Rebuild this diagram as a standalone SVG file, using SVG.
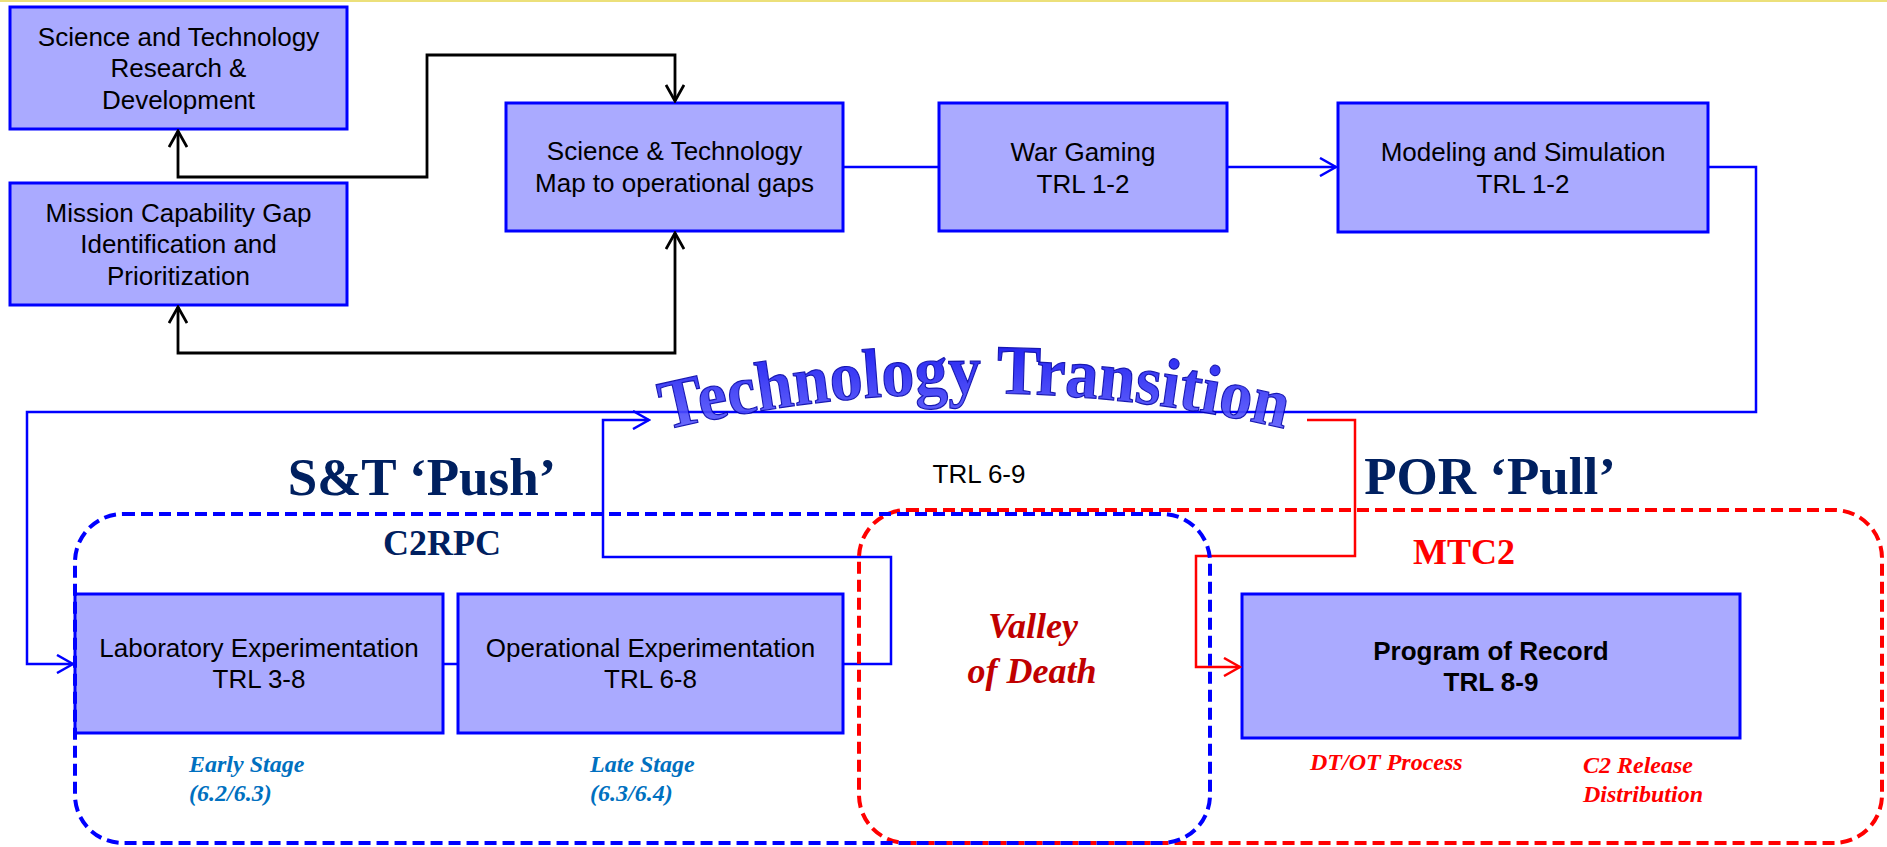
<svg xmlns="http://www.w3.org/2000/svg" width="1887" height="847" viewBox="0 0 1887 847">
<style>
.box{fill:#aaaaff;stroke:#0000ff;stroke-width:3}
.bt{font-family:"Liberation Sans",Arial,sans-serif;font-size:26px;fill:#000;text-anchor:middle}
.bold{font-weight:bold}
.ck{fill:none;stroke:#000;stroke-width:2.8}
.cb{fill:none;stroke:#0000ff;stroke-width:2.5}
.cr{fill:none;stroke:#ff0000;stroke-width:2.5}
.hd{font-family:"Liberation Serif","Times New Roman",serif;font-weight:bold;fill:#002060}
.it{font-family:"Liberation Serif","Times New Roman",serif;font-weight:bold;font-style:italic}
</style>
<defs>
<marker id="ak" viewBox="0 0 20 20" refX="18" refY="10" markerWidth="20" markerHeight="20" markerUnits="userSpaceOnUse" orient="auto-start-reverse"><path d="M2,1 L18,10 L2,19" fill="none" stroke="#000" stroke-width="2.8"/></marker>
<marker id="ab" viewBox="0 0 20 20" refX="18" refY="10" markerWidth="20" markerHeight="20" markerUnits="userSpaceOnUse" orient="auto"><path d="M2,1 L18,10 L2,19" fill="none" stroke="#0000ff" stroke-width="2.5"/></marker>
<marker id="ar" viewBox="0 0 20 20" refX="18" refY="10" markerWidth="20" markerHeight="20" markerUnits="userSpaceOnUse" orient="auto"><path d="M2,1 L18,10 L2,19" fill="none" stroke="#ff0000" stroke-width="2.5"/></marker>
<linearGradient id="wg" x1="0" y1="0" x2="0" y2="1"><stop offset="0" stop-color="#0000ee"/><stop offset="1" stop-color="#6a6aff"/></linearGradient>
<path id="arc" d="M665,430 A1346,1346 0 0 1 1290,430"/>
</defs>
<rect x="0" y="0" width="1887" height="2" fill="#ece07a"/>

<g id="n-rd"><rect class="box" x="10" y="7" width="337" height="122"/>
<text class="bt" x="178.5" y="46">Science and Technology</text><text class="bt" x="178.5" y="77">Research &amp;</text><text class="bt" x="178.5" y="109">Development</text></g>
<g id="n-gap"><rect class="box" x="10" y="183" width="337" height="122"/>
<text class="bt" x="178.5" y="222">Mission Capability Gap</text><text class="bt" x="178.5" y="253">Identification and</text><text class="bt" x="178.5" y="285">Prioritization</text></g>
<g id="n-map"><rect class="box" x="506" y="103" width="337" height="128"/>
<text class="bt" x="674.5" y="160">Science &amp; Technology</text><text class="bt" x="674.5" y="192">Map to operational gaps</text></g>
<g id="n-wg"><rect class="box" x="939" y="103" width="288" height="128"/>
<text class="bt" x="1083" y="161">War Gaming</text><text class="bt" x="1083" y="193">TRL 1-2</text></g>
<g id="n-ms"><rect class="box" x="1338" y="103" width="370" height="129"/>
<text class="bt" x="1523" y="161">Modeling and Simulation</text><text class="bt" x="1523" y="193">TRL 1-2</text></g>
<g id="n-lab"><rect class="box" x="75" y="594" width="368" height="139"/>
<text class="bt" x="259" y="657">Laboratory Experimentation</text><text class="bt" x="259" y="688">TRL 3-8</text></g>
<g id="n-op"><rect class="box" x="458" y="594" width="385" height="139"/>
<text class="bt" x="650.5" y="657">Operational Experimentation</text><text class="bt" x="650.5" y="688">TRL 6-8</text></g>
<g id="n-por"><rect class="box" x="1242" y="594" width="498" height="144"/>
<text class="bt bold" x="1491" y="660">Program of Record</text><text class="bt bold" x="1491" y="691">TRL 8-9</text></g>

<g id="connectors">
<path class="ck" d="M178,131 L178,177 L427,177 L427,55 L675,55 L675,101" marker-start="url(#ak)" marker-end="url(#ak)"/>
<path class="ck" d="M178,307 L178,353 L675,353 L675,233" marker-start="url(#ak)" marker-end="url(#ak)"/>
<path class="cb" d="M843,167 L939,167"/>
<path class="cb" d="M1227,167 L1336,167" marker-end="url(#ab)"/>
<path class="cb" d="M1708,167 L1756,167 L1756,412 L27,412 L27,664 L73,664" marker-end="url(#ab)"/>
<path class="cb" d="M443,664 L458,664"/>
<path class="cb" d="M843,664 L891,664 L891,557 L603,557 L603,420 L649,420" marker-end="url(#ab)"/>
<path class="cr" d="M1307,420 L1355,420 L1355,556 L1196,556 L1196,667 L1240,667" marker-end="url(#ar)"/>
</g>

<g id="g-mtc2"><rect x="859" y="510" width="1023" height="333" rx="48" ry="48" fill="none" stroke="#ff0000" stroke-width="4" stroke-dasharray="12 6"/></g>
<g id="g-c2rpc"><rect x="75" y="514" width="1135" height="329" rx="48" ry="48" fill="none" stroke="#0000ff" stroke-width="4" stroke-dasharray="12 6"/></g>

<g id="title-arc"><text font-family="'Liberation Serif','Times New Roman',serif" font-weight="bold" font-size="70" fill="url(#wg)" stroke="#0000aa" stroke-width="1.2" opacity="0.9"><textPath href="#arc" startOffset="0" textLength="625" lengthAdjust="spacingAndGlyphs">Technology Transition</textPath></text></g>

<text class="hd" x="422" y="495" font-size="53" text-anchor="middle">S&amp;T ‘Push’</text>
<text class="hd" x="1490" y="494" font-size="53" text-anchor="middle">POR ‘Pull’</text>
<text class="hd" x="442" y="555" font-size="36" text-anchor="middle">C2RPC</text>
<text class="hd" x="1464" y="564" font-size="36" text-anchor="middle" style="fill:#ff0000">MTC2</text>
<text class="bt" x="979" y="483">TRL 6-9</text>
<text class="it" x="1033" y="638" font-size="36" fill="#c00000" text-anchor="middle">Valley</text>
<text class="it" x="1032" y="683" font-size="36" fill="#c00000" text-anchor="middle">of Death</text>
<text class="it" x="189" y="772" font-size="24" fill="#0070c0">Early Stage</text>
<text class="it" x="189" y="801" font-size="24" fill="#0070c0">(6.2/6.3)</text>
<text class="it" x="590" y="772" font-size="24" fill="#0070c0">Late Stage</text>
<text class="it" x="590" y="801" font-size="24" fill="#0070c0">(6.3/6.4)</text>
<text class="it" x="1310" y="770" font-size="24" fill="#ff0000">DT/OT Process</text>
<text class="it" x="1583" y="773" font-size="24" fill="#ff0000">C2 Release</text>
<text class="it" x="1583" y="802" font-size="24" fill="#ff0000">Distribution</text>
</svg>
